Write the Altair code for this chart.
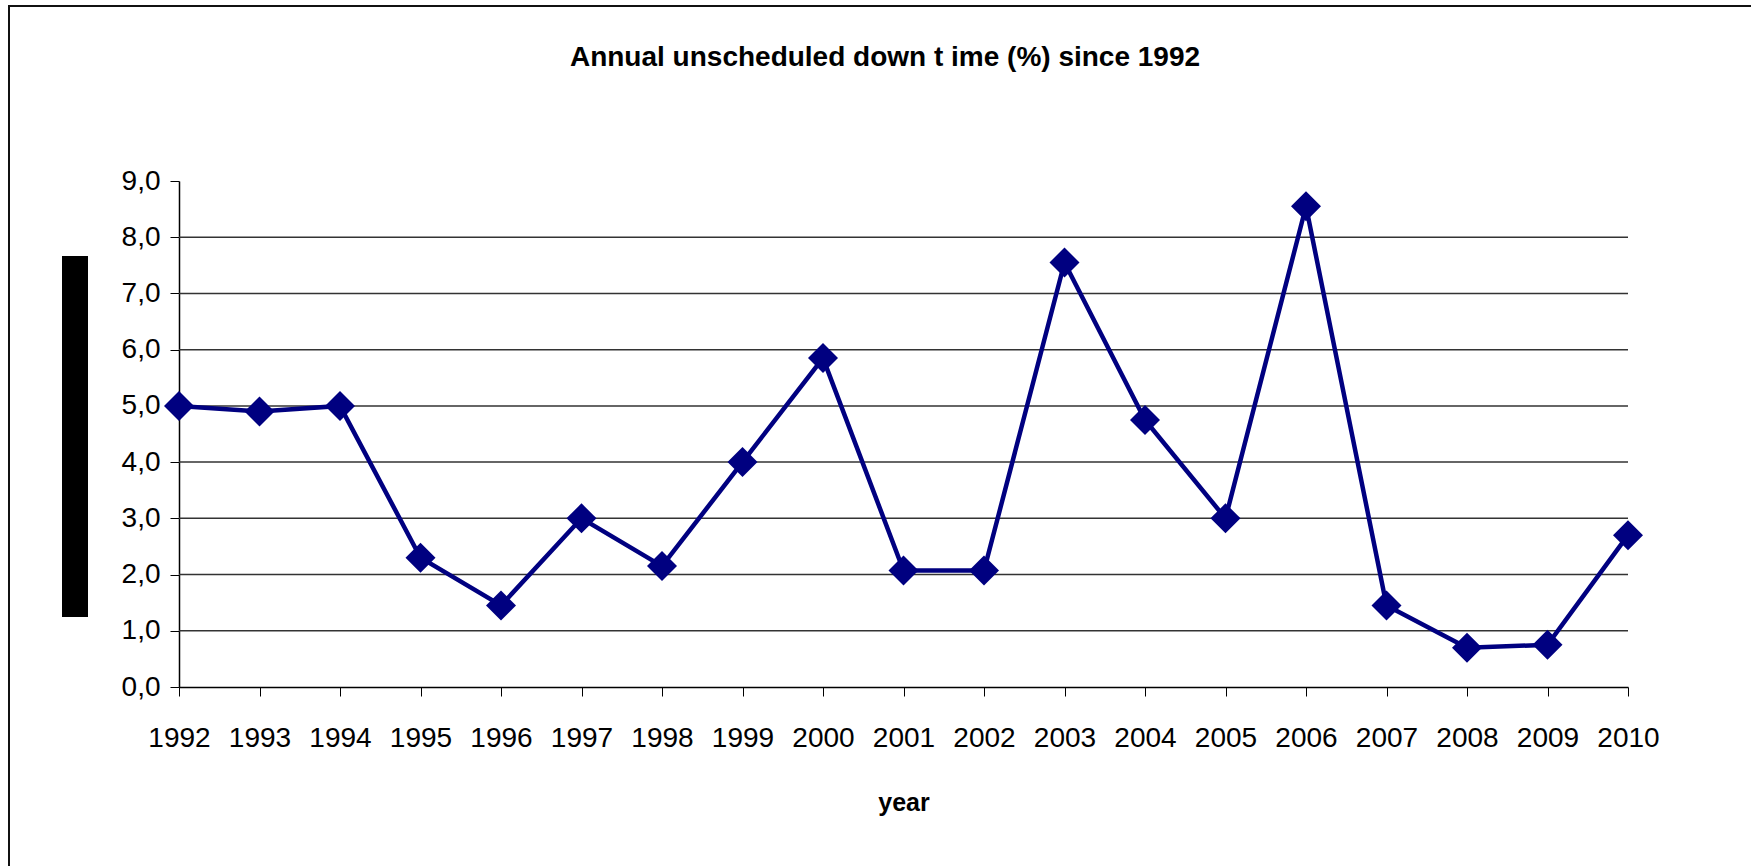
import altair as alt
import pandas as pd

# Annual unscheduled down time, percent
years = [1992, 1993, 1994, 1995, 1996, 1997, 1998, 1999, 2000, 2001,
         2002, 2003, 2004, 2005, 2006, 2007, 2008, 2009, 2010]
downtime = [5.0, 4.9, 5.0, 2.3, 1.45, 3.0, 2.15, 4.0, 5.85, 2.07,
            2.07, 7.55, 4.75, 3.0, 8.55, 1.45, 0.7, 0.75, 2.7]
y_ticks = [0, 1, 2, 3, 4, 5, 6, 7, 8, 9]
grid_values = [1, 2, 3, 4, 5, 6, 7, 8]
title_text = ["Annual unscheduled down t ime (%) since 1992"]

FONT = "Liberation Sans"
NAVY = "#000080"

df = pd.DataFrame({"year": years, "downtime": downtime})
grid_df = pd.DataFrame({"v": grid_values})
one = pd.DataFrame({"k": [0]})
title_df = pd.DataFrame({"t": title_text})

x_scale = alt.Scale(domain=[1992, 2010], nice=False, zero=False)
y_scale = alt.Scale(domain=[0, 9], nice=False, zero=True)

x_axis = alt.Axis(
    values=years, format="d", title="year",
    labelFont=FONT, labelFontSize=28, labelColor="#000",
    labelPadding=28, labelOverlap=False, labelFlush=False,
    tickSize=9, tickColor="#000", tickWidth=1,
    domainColor="#000", domainWidth=1.5, grid=False,
    titleFont=FONT, titleFontSize=25, titleFontWeight="bold",
    titleColor="#000", titlePadding=38,
)
y_axis = alt.Axis(
    values=y_ticks, title=None,
    labelExpr="replace(format(datum.value, '.1f'), '.', ',')",
    labelFont=FONT, labelFontSize=28, labelColor="#000",
    labelPadding=10, tickSize=9, tickColor="#000", tickWidth=1,
    domainColor="#000", domainWidth=1.5, grid=False,
)

grid = alt.Chart(grid_df).mark_rule(color="#333", strokeWidth=1.5).encode(
    y=alt.Y("v:Q", scale=y_scale),
)

line = alt.Chart(df).mark_line(color=NAVY, strokeWidth=4.5).encode(
    x=alt.X("year:Q", scale=x_scale, axis=x_axis),
    y=alt.Y("downtime:Q", scale=y_scale, axis=y_axis),
)

points = alt.Chart(df).mark_point(
    shape="diamond", filled=True, size=900, color=NAVY, opacity=1
).encode(
    x=alt.X("year:Q", scale=x_scale),
    y=alt.Y("downtime:Q", scale=y_scale),
)

# chart heading above the plot
heading = alt.Chart(title_df).mark_text(
    font=FONT, fontSize=28, fontWeight="bold", color="#000",
    align="center", baseline="middle",
).encode(
    text="t:N", x=alt.value(706), y=alt.value(-123),
)

# black block to the left of the value axis
block = alt.Chart(one).mark_rect(color="#000").encode(
    x=alt.value(-117), x2=alt.value(-91),
    y=alt.value(75), y2=alt.value(436),
)

# outer frame: left and top edges
frame_left = alt.Chart(one).mark_rule(color="#111", strokeWidth=2).encode(
    x=alt.value(-170), y=alt.value(-175), y2=alt.value(690),
)
frame_top = alt.Chart(one).mark_rule(color="#111", strokeWidth=2).encode(
    x=alt.value(-171), x2=alt.value(1580), y=alt.value(-175),
)

chart = alt.layer(
    grid, line, points, heading, block, frame_left, frame_top
).properties(
    width=1449,
    height=506,
    padding={"left": 179, "top": 181, "right": 123, "bottom": 179},
    autosize=alt.AutoSizeParams(type="none"),
).configure(background="white").configure_view(stroke=None)

chart.save("out.html", embed_options={"renderer": "svg", "actions": False})
